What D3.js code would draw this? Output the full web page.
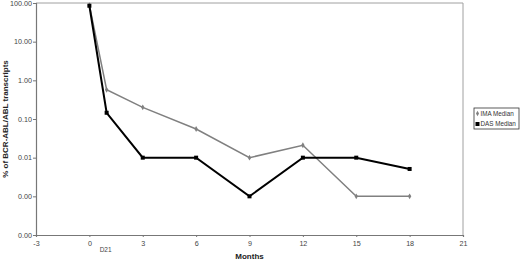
<!DOCTYPE html>
<html>
<head>
<meta charset="utf-8">
<script src="https://cdn.jsdelivr.net/npm/d3@7"></script>
<style>
body { margin: 0; background: #fff; }
svg { display: block; font-family: Arial, "Liberation Sans", sans-serif; }
</style>
</head>
<body>
<svg id="chart" width="520" height="261"></svg>
<script>
// months (D21 is drawn close to month 1)
const months = [0, 0.97, 3, 6, 9, 12, 15, 18];
const imaMedian = [88, 0.57, 0.2, 0.055, 0.01, 0.021, 0.001, 0.001];
const dasMedian = [85, 0.145, 0.01, 0.01, 0.001, 0.01, 0.01, 0.0051];
const xTicks = [-3, 0, 3, 6, 9, 12, 15, 18, 21];
const yTicks = [100, 10, 1, 0.1, 0.01, 0.001, 0.0001];
const seriesNames = ["IMA Median", "DAS Median"];

const svg = d3.select("#chart");
const margin = { top: 3, right: 57, bottom: 26, left: 36 };
const width = 520 - margin.left - margin.right;
const height = 261 - margin.top - margin.bottom;

const x = d3.scaleLinear().domain([-3, 21]).range([0, width]);
const y = d3.scaleLog().domain([0.0001, 100]).range([height, 0]);

const g = svg.append("g")
    .attr("transform", `translate(${margin.left}, ${margin.top})`);

// plot frame top / right
g.append("path")
    .attr("d", `M0,0H${width}V${height}`)
    .attr("fill", "none")
    .attr("stroke", "#a0a0a0")
    .attr("stroke-width", 1);

// axes
const xAxis = g.append("g")
    .attr("transform", `translate(0, ${height})`)
    .call(d3.axisBottom(x).tickValues(xTicks).tickSize(2).tickFormat((d) => String(d)));
const yAxis = g.append("g")
    .call(d3.axisLeft(y).tickValues(yTicks).tickSize(3).tickFormat(d3.format(".2f")));

[xAxis, yAxis].forEach((a) => {
    a.select(".domain").attr("stroke", "#777").attr("stroke-width", 1.2);
    a.selectAll(".tick line").attr("stroke", "#777");
    a.selectAll(".tick text").attr("fill", "#444").attr("font-size", 7.2);
});
xAxis.selectAll(".tick text").attr("dy", "0.9em");
yAxis.selectAll(".tick text").attr("x", -4);

// D21 label under the second point
g.append("text")
    .attr("x", x(months[1]) - 1)
    .attr("y", height + 17)
    .attr("text-anchor", "middle")
    .attr("font-size", 6.5)
    .attr("fill", "#444")
    .text("D21");

const line = d3.line()
    .x((d) => x(d.m))
    .y((d) => y(d.v))
    .curve(d3.curveLinear);

const ima = months.map((m, i) => ({ m: m, v: imaMedian[i] }));
const das = months.map((m, i) => ({ m: m, v: dasMedian[i] }));

g.append("path")
    .datum(ima)
    .attr("fill", "none")
    .attr("stroke", "#808080")
    .attr("stroke-width", 1.5)
    .attr("d", line);

g.selectAll(".ima-pt")
    .data(ima)
    .enter()
    .append("path")
    .attr("class", "ima-pt")
    .attr("transform", (d) => `translate(${x(d.m)}, ${y(d.v)})`)
    .attr("d", d3.symbol(d3.symbolDiamond, 10))
    .attr("fill", "#808080");

g.append("path")
    .datum(das)
    .attr("fill", "none")
    .attr("stroke", "#000")
    .attr("stroke-width", 2)
    .attr("d", line);

g.selectAll(".das-pt")
    .data(das)
    .enter()
    .append("rect")
    .attr("class", "das-pt")
    .attr("x", (d) => x(d.m) - 2)
    .attr("y", (d) => y(d.v) - 2)
    .attr("width", 4)
    .attr("height", 4)
    .attr("fill", "#000");

// axis titles
svg.append("text")
    .attr("transform", `translate(8, ${margin.top + height / 2}) rotate(-90)`)
    .attr("text-anchor", "middle")
    .attr("font-size", 8)
    .attr("font-weight", "bold")
    .attr("fill", "#222")
    .text("% of BCR-ABL/ABL transcripts");

svg.append("text")
    .attr("x", margin.left + x(9))
    .attr("y", 259)
    .attr("text-anchor", "middle")
    .attr("font-size", 8)
    .attr("font-weight", "bold")
    .attr("fill", "#222")
    .text("Months");

// legend
const legend = svg.append("g").attr("transform", "translate(474, 108)");
legend.append("rect")
    .attr("width", 45)
    .attr("height", 21)
    .attr("fill", "#fff")
    .attr("stroke", "#333")
    .attr("stroke-width", 0.8);

seriesNames.forEach((name, i) => {
    const row = legend.append("g").attr("transform", `translate(0, ${5.5 + i * 10.5})`);
    if (i === 0) {
        row.append("path")
            .attr("transform", "translate(3.5, 0)")
            .attr("d", d3.symbol(d3.symbolDiamond, 8))
            .attr("fill", "#808080");
    } else {
        row.append("rect")
            .attr("x", 1.5).attr("y", -2)
            .attr("width", 4).attr("height", 4)
            .attr("fill", "#000");
    }
    row.append("text")
        .attr("x", 6.5)
        .attr("y", 2.3)
        .attr("font-size", 6.3)
        .attr("fill", "#333")
        .text(name);
});
</script>
</body>
</html>
